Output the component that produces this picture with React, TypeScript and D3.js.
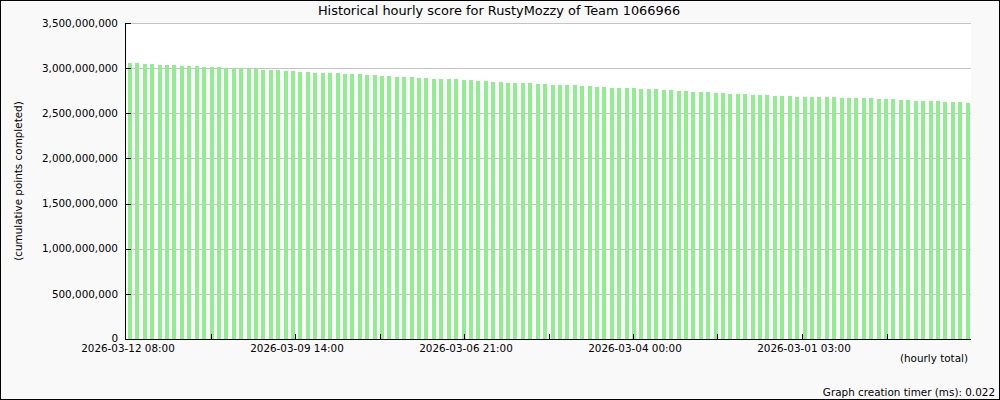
import React from "react";
import * as d3 from "d3";

const TITLE = "Historical hourly score for RustyMozzy of Team 1066966";
const Y_TITLE = "(cumulative points completed)";
const X_TITLE = "(hourly total)";
const FOOTER = "Graph creation timer (ms): 0.022";

// cumulative points, newest first (millions)
const scoresM: number[] = [
  3057, 3057, 3046, 3046, 3035, 3035, 3035, 3024, 3024, 3024, 3013, 3013, 3013, 3002, 3002, 3002,
  2990, 2990, 2979, 2979, 2979, 2968, 2968,
  2957, 2957, 2946, 2946, 2946, 2946, 2935, 2935, 2935, 2924, 2924, 2913, 2913, 2902, 2902, 2902,
  2891, 2891, 2880, 2880, 2880, 2880, 2869,
  2869, 2858, 2858, 2847, 2847, 2835, 2835, 2835, 2835, 2824, 2824, 2813, 2813, 2813, 2813,
  2802, 2802, 2791, 2791, 2780, 2780, 2780,
  2780, 2769, 2769, 2769, 2758, 2758, 2747, 2747, 2736, 2736, 2736, 2725, 2725, 2714, 2714, 2714,
  2703, 2703, 2703, 2691, 2691, 2691, 2680,
  2680, 2680, 2680, 2680, 2680, 2669, 2669, 2669, 2669, 2669, 2658, 2658, 2658, 2647, 2647,
  2636, 2636, 2636, 2636, 2625, 2625, 2625, 2614,
];

const yTicks: number[] = [0, 500e6, 1000e6, 1500e6, 2000e6, 2500e6, 3000e6, 3500e6];
const xLabels: string[] = [
  "2026-03-12 08:00",
  "2026-03-09 14:00",
  "2026-03-06 21:00",
  "2026-03-04 00:00",
  "2026-03-01 03:00",
];

const W = 1000;
const H = 400;
const L = 126;
const R = 971;
const T = 23;
const B = 339;
const FONT = "DejaVu Sans, Verdana, sans-serif";

export default function App() {
  const y = d3.scaleLinear().domain([0, 3.5e9]).range([B, T]);
  const x = d3
    .scaleBand<number>()
    .domain(scoresM.map((_, i) => i))
    .range([L, R]);
  const tickX = d3.scaleLinear().domain([0, 10]).range([L, R]);
  const fmt = d3.format(",");
  const bw = x.bandwidth();

  return (
    <svg
      width={W}
      height={H}
      style={{ position: "absolute", left: 0, top: 0, display: "block" }}
      fontFamily={FONT}
    >
      <rect x={0.5} y={0.5} width={W - 1} height={H - 1} fill="#f9f9f9" stroke="#000" />
      <rect x={L} y={T} width={R - L} height={B - T} fill="#ffffff" />
      {/* gridlines */}
      {yTicks.map((t) => (
        <line
          key={"g" + t}
          x1={L}
          x2={R}
          y1={Math.round(y(t)) + 0.5}
          y2={Math.round(y(t)) + 0.5}
          stroke="#c4c4c4"
          shapeRendering="crispEdges"
        />
      ))}
      {/* bars */}
      {scoresM.map((v, i) => {
        const top = y(v * 1e6);
        return (
          <rect
            key={i}
            x={Math.round((x(i) as number) + 2)}
            y={top}
            width={Math.max(4, Math.round(bw * 0.56))}
            height={B - top}
            fill="#90ee90"
            shapeRendering="crispEdges"
          />
        );
      })}
      {/* axes */}
      <line x1={L - 0.5} x2={L - 0.5} y1={T} y2={B + 1} stroke="#000" shapeRendering="crispEdges" />
      <line x1={L - 1} x2={R} y1={B + 0.5} y2={B + 0.5} stroke="#000" shapeRendering="crispEdges" />
      {yTicks.map((t) => (
        <g key={"yt" + t}>
          <line
            x1={L}
            x2={L + 5}
            y1={Math.round(y(t)) + 0.5}
            y2={Math.round(y(t)) + 0.5}
            stroke="#000"
            shapeRendering="crispEdges"
          />
          <text x={118} y={y(t) - (t === 0 ? 1 : 0)} dy="0.36em" textAnchor="end" fontSize={10.4} fill="#000">
            {fmt(t)}
          </text>
        </g>
      ))}
      {d3.range(1, 10).map((k) => (
        <line
          key={"xt" + k}
          x1={Math.round(tickX(k)) + 0.5}
          x2={Math.round(tickX(k)) + 0.5}
          y1={B - 5}
          y2={B}
          stroke="#000"
          shapeRendering="crispEdges"
        />
      ))}
      {xLabels.map((lab, k) => (
        <text
          key={lab}
          x={tickX(k * 2) + 2}
          y={352}
          textAnchor="middle"
          fontSize={10.4}
          fill="#000"
        >
          {lab}
        </text>
      ))}
      <text x={499} y={15} textAnchor="middle" fontSize={12.9} fill="#000">
        {TITLE}
      </text>
      <text
        transform={`translate(22,${(T + B) / 2}) rotate(-90)`}
        textAnchor="middle"
        fontSize={10.4}
        fill="#000"
      >
        {Y_TITLE}
      </text>
      <text x={968} y={362} textAnchor="end" fontSize={10.4} fill="#000">
        {X_TITLE}
      </text>
      <text x={995} y={396} textAnchor="end" fontSize={10.4} fill="#000">
        {FOOTER}
      </text>
    </svg>
  );
}
